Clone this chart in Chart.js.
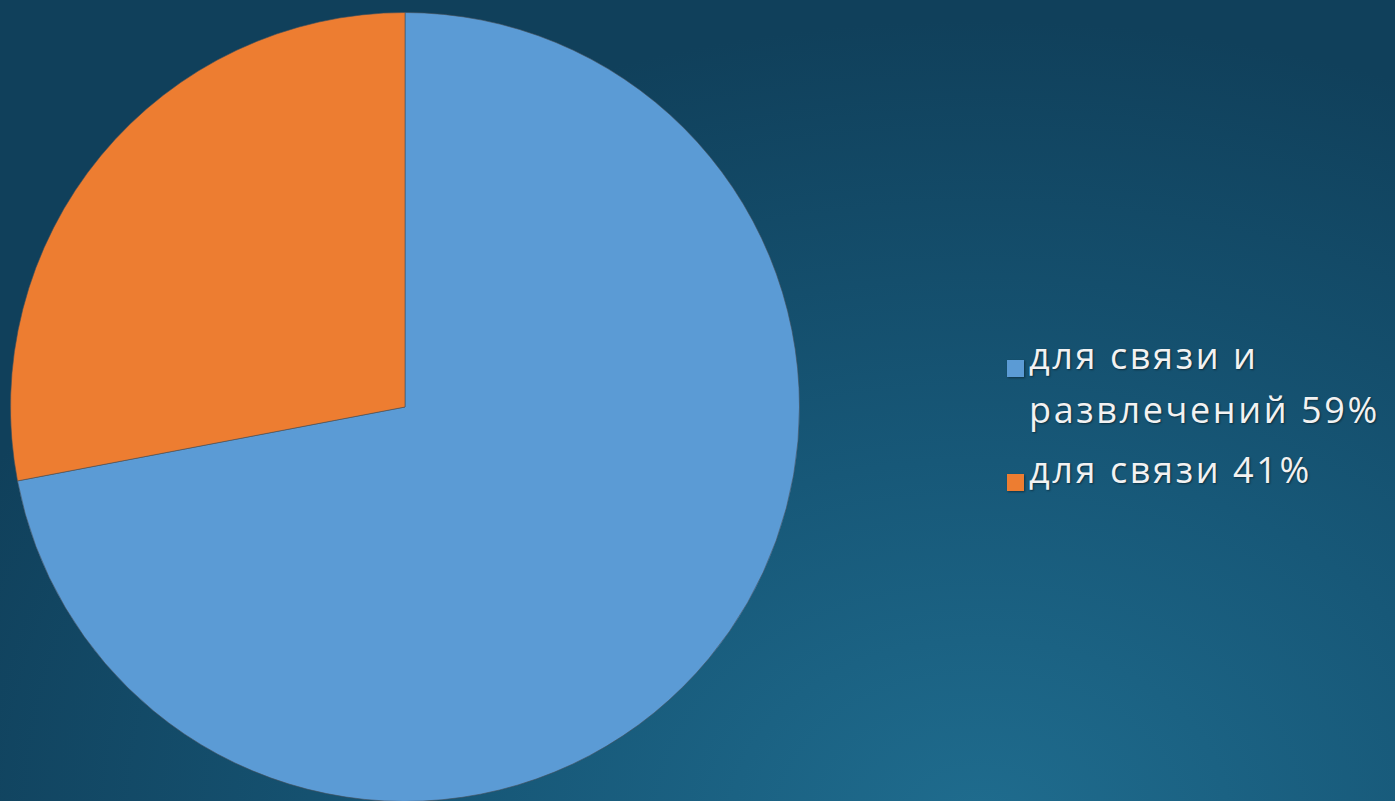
<!DOCTYPE html>
<html>
<head>
<meta charset="utf-8">
<script src="https://cdn.jsdelivr.net/npm/chart.js@4"></script>
<style>
    html, body {
        margin: 0;
        width: 1395px;
        height: 801px;
        overflow: hidden;
        background: radial-gradient(ellipse 1100px 800px at 980px 820px, #1f6c8e 0%, #175878 45%, #10405b 100%);
        font-family: "Open Sans", sans-serif;
    }
    #pie-box {
        position: absolute;
        left: 10px;
        top: 12px;
        width: 790px;
        height: 790px;
    }
    #legend {
        position: absolute;
        left: 1007px;
        top: 329px;
        color: #f2f2f2;
        font-size: 36px;
        letter-spacing: 2.6px;
        line-height: 54px;
        text-shadow: 1px 1px 2px rgba(0, 0, 0, .45);
    }
    .legend-item {
        display: flex;
        align-items: flex-start;
        margin-bottom: 6px;
    }
    .legend-box {
        width: 17px;
        height: 17px;
        flex: none;
        margin-top: 31px;
        margin-right: 5px;
        box-shadow: 1px 1px 2px rgba(0, 0, 0, .4);
    }
</style>
</head>
<body>
<div id="pie-box"><canvas id="usage-chart"></canvas></div>
<div id="legend"></div>
<script>
const categories = ["для связи и развлечений 59%", "для связи 41%"];
const legendLines = [["для связи и", "развлечений 59%"], ["для связи 41%"]];
const shares = [72, 28];
const colors = ['#5b9bd5', '#ed7d31'];

const usageCanvas = document.getElementById("usage-chart");
const legendBox = document.getElementById("legend");

// PIE CHART

let usageData = {
    labels: categories,
    datasets: [{
        data: shares,
        backgroundColor: colors,
        borderColor: 'rgba(70, 80, 90, .6)',
        borderWidth: 1
    }]
};

let usageOptions = {
    responsive: true,
    maintainAspectRatio: false,
    animation: {
        duration: 0
    },
    layout: {
        padding: 0
    },
    plugins: {
        legend: {
            display: false
        },
        tooltip: {
            enabled: false
        }
    }
};

let pieChart = new Chart(usageCanvas, {
    type: 'pie',
    data: usageData,
    options: usageOptions
});

// LEGEND

legendBox.innerHTML = legendLines.map((lines, i) => `
    <div class="legend-item">
        <span class="legend-box" style="background:${colors[i]}"></span>
        <span>${lines.join('<br>')}</span>
    </div>
`).join('');
</script>
</body>
</html>
